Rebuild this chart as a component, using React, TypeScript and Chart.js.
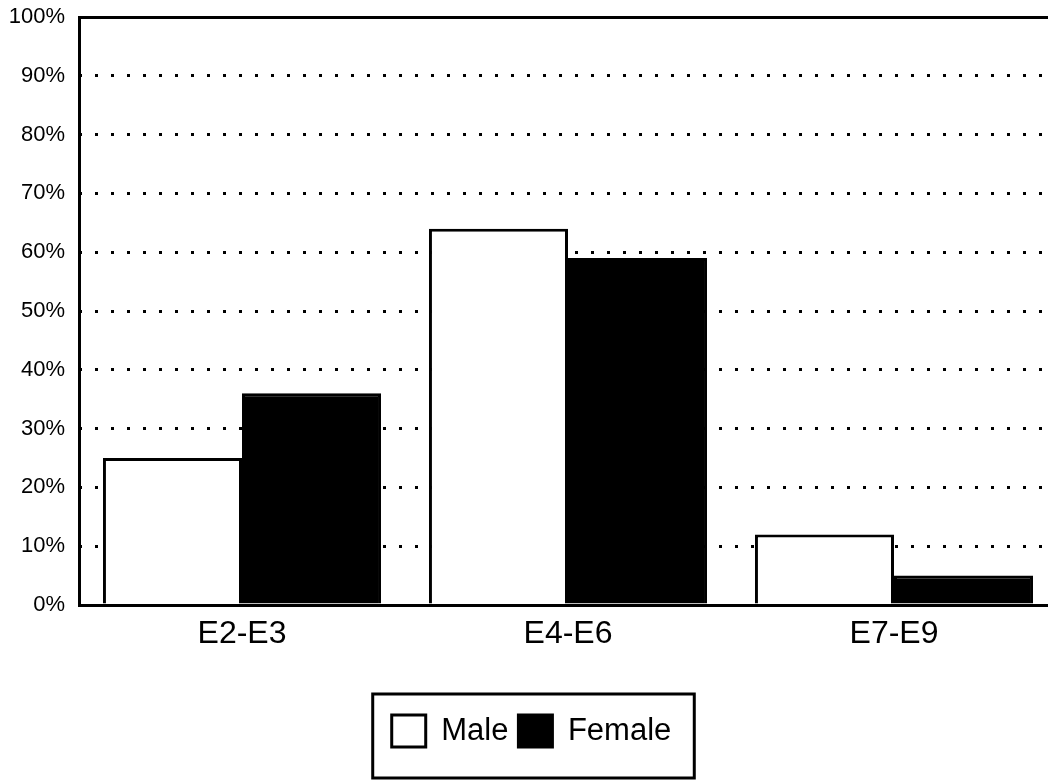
import React, { useEffect, useRef } from "react";
import { Chart, registerables } from "chart.js";

Chart.register(...registerables);

const categories = ["E2-E3", "E4-E6", "E7-E9"];
const maleValues = [25, 64, 12];
const femaleValues = [36, 59, 5];
const yTicks = [0, 10, 20, 30, 40, 50, 60, 70, 80, 90, 100];

const FONT = "'Liberation Sans', Arial, Helvetica, sans-serif";

const legendFrame = {
  id: "legendFrame",
  afterDraw(chart: any) {
    const lg = chart.legend;
    if (!lg || !lg.legendHitBoxes || !lg.legendHitBoxes.length) return;
    const hb = lg.legendHitBoxes;
    const first = hb[0];
    const last = hb[hb.length - 1];
    const left = first.left - 19;
    const right = last.left + last.width + 23;
    const top = first.top - 21;
    const bottom = first.top + first.height + 31;
    const ctx = chart.ctx;
    ctx.save();
    ctx.lineWidth = 3;
    ctx.strokeStyle = "#000";
    ctx.strokeRect(left, top, right - left, bottom - top);
    ctx.restore();
  },
};

export default function App() {
  const ref = useRef<HTMLCanvasElement | null>(null);

  useEffect(() => {
    if (!ref.current) return;
    const chart = new Chart(ref.current, {
      type: "bar",
      data: {
        labels: categories,
        datasets: [
          {
            label: "Male",
            data: maleValues,
            backgroundColor: "#ffffff",
            borderColor: "#000000",
            borderWidth: 3,
            xAxisID: "x",
          },
          {
            label: "Female",
            data: femaleValues,
            backgroundColor: "#000000",
            borderColor: "#000000",
            borderWidth: 3,
            xAxisID: "x",
          },
        ],
      },
      options: {
        responsive: false,
        animation: false,
        devicePixelRatio: 1,
        layout: { padding: { left: 6, right: 13, top: 17, bottom: 24 } },
        datasets: {
          bar: { barPercentage: 1, categoryPercentage: 0.853 },
        },
        plugins: {
          tooltip: { enabled: false },
          legend: {
            display: true,
            position: "bottom",
            labels: {
              color: "#000",
              font: { family: FONT, size: 31 },
              boxWidth: 34,
              boxHeight: 32,
              padding: 10,
            },
          },
        },
        scales: {
          x: {
            type: "category",
            position: "bottom",
            z: 1,
            grid: { display: false, drawTicks: false },
            border: { display: true, color: "#000", width: 3 },
            ticks: {
              color: "#000",
              font: { family: FONT, size: 32 },
              padding: 10,
            },
            afterFit: (s: any) => {
              s.height = 100;
            },
          },
          xTop: {
            type: "category",
            position: "top",
            grid: { display: false, drawTicks: false },
            border: { display: true, color: "#000", width: 3 },
            ticks: { display: false },
            afterFit: (s: any) => {
              s.height = 0;
            },
          },
          y: {
            type: "linear",
            min: 0,
            max: 100,
            afterBuildTicks: (s: any) => {
              s.ticks = yTicks.map((v) => ({ value: v }));
            },
            grid: {
              drawTicks: false,
              lineWidth: 3,
              color: (c: any) =>
                c.tick && (c.tick.value === 0 || c.tick.value === 100)
                  ? "rgba(0,0,0,0)"
                  : "#000",
            },
            border: { display: true, color: "#000", width: 3, dash: [3, 13], dashOffset: 18 },
            ticks: {
              color: "#000",
              font: { family: FONT, size: 22 },
              padding: 14,
              callback: (v: any) => v + "%",
            },
            afterFit: (s: any) => {
              s.width = 73;
              s.paddingTop = 0;
              s.paddingBottom = 0;
            },
          },
        },
      },
      plugins: [legendFrame],
    } as any);
    return () => chart.destroy();
  }, []);

  return (
    <div
      style={{
        position: "fixed",
        left: 0,
        top: 0,
        width: 1048,
        height: 781,
        overflow: "hidden",
        background: "#fff",
      }}
    >
      <canvas ref={ref} width={1070} height={781} style={{ display: "block" }} />
    </div>
  );
}
